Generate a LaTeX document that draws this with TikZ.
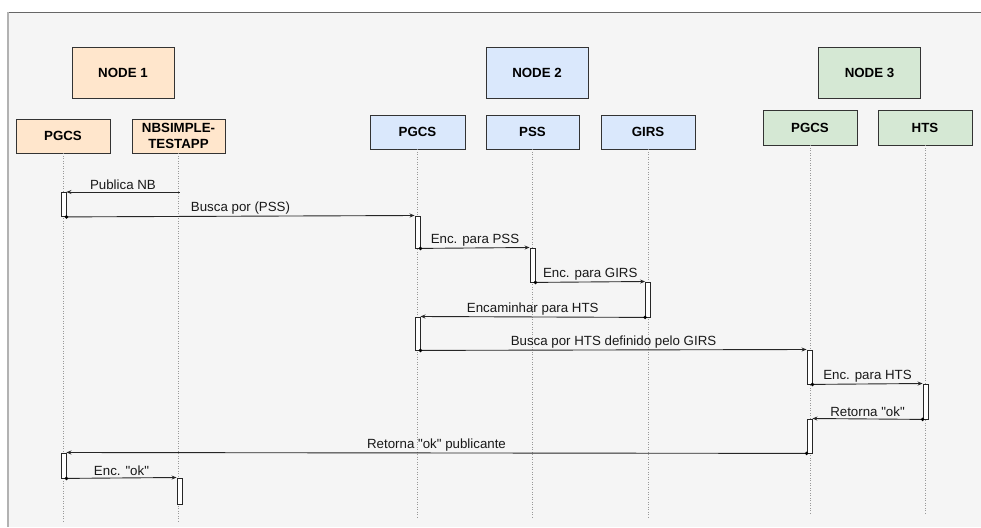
\documentclass[tikz,border=0pt]{standalone}
\usepackage{fontspec}
\setmainfont{Liberation Sans}
\newfontfamily\plainq{Liberation Sans}
\usetikzlibrary{arrows.meta}
\definecolor{bgc}{HTML}{F5F5F5}
\definecolor{orf}{HTML}{FFE6CC}
\definecolor{blf}{HTML}{DAE8FC}
\definecolor{grf}{HTML}{D5E8D4}
\definecolor{bordc}{HTML}{333333}
\newcommand{\dq}{{\plainq\symbol{34}}}
\begin{document}
\begin{tikzpicture}[x=1pt,y=-1pt,
  box/.style={draw=bordc,line width=0.9pt,minimum width=94pt,minimum height=34pt,inner sep=0pt,align=center,font=\fontsize{13.3}{16.5}\selectfont\bfseries},
  bigbox/.style={box,minimum width=102pt,minimum height=51pt},
  life/.style={draw=gray!80,line width=0.6pt,dash pattern=on 1pt off 1.5pt},
  bar/.style={draw=black!85,fill=white,line width=0.9pt,minimum width=5pt,inner sep=0pt,anchor=north},
  msg/.style={draw=black!85,line width=0.9pt,-{Stealth[length=5pt,width=4pt]}},
  lbl/.style={midway,above,inner sep=1.5pt,font=\fontsize{13.3}{15}\selectfont,text=black!90}
]
\useasboundingbox (0,0) rectangle (981,527);
\fill[bgc] (7,12) rectangle (981,527);
\draw[gray!80!black,line width=0.8pt] (7,12) -- (981,12);
\draw[gray!60,line width=2pt] (8,12) -- (8,527);

% group boxes
\node[bigbox,fill=orf] (n1) at (123,72.5) {NODE 1};
\node[bigbox,fill=blf] (n2) at (537,72.5) {NODE 2};
\node[bigbox,fill=grf] (n3) at (869.5,72.5) {NODE 3};

% participants
\node[box,fill=orf] (pg1) at (63,136) {PGCS};
\node[box,fill=orf,minimum width=93pt] (nb) at (178.5,136) {NBSIMPLE-\\TESTAPP};
\node[box,fill=blf,minimum width=95pt] (pg2) at (417.5,132) {PGCS};
\node[box,fill=blf,minimum width=93pt] (pss) at (532.5,132) {PSS};
\node[box,fill=blf] (girs) at (648,132) {GIRS};
\node[box,fill=grf,minimum height=35pt] (pg3) at (810,127.5) {PGCS};
\node[box,fill=grf,minimum height=35pt] (hts) at (925,127.5) {HTS};

% lifelines
\foreach \p in {pg1,nb,pg2,pss,girs,pg3,hts}
  \draw[life] (\p.south) -- ++(0,370);

% activation bars
\node[bar,minimum height=24pt] (b1) at (63.5,192) {};
\node[bar,minimum height=32pt] (b2) at (417.5,215.5) {};
\node[bar,minimum height=34pt] (b3) at (532.5,247.5) {};
\node[bar,minimum height=35pt] (b4) at (648,281.5) {};
\node[bar,minimum height=33pt] (b5) at (417.5,316.5) {};
\node[bar,minimum height=34pt] (b6) at (809.5,349.5) {};
\node[bar,minimum height=35pt] (b7) at (925.5,383.5) {};
\node[bar,minimum height=34pt] (b8) at (809.5,418.5) {};
\node[bar,minimum height=25pt] (b9) at (63.5,452.5) {};
\node[bar,minimum height=26pt] (b10) at (179.5,477.5) {};

\coordinate (s1) at (179.5,192);

% messages
\draw[msg] (s1) -- (b1.north east) node[lbl] {Publica NB};
\draw[msg] (b1.south east) -- (b2.north west) node[lbl] {Busca por (PSS)};
\draw[msg] (b2.south east) -- (b3.north west) node[lbl] {Enc. para PSS};
\draw[msg] (b3.south east) -- (b4.north west) node[lbl] {Enc. para GIRS};
\draw[msg] (b4.south west) -- (b5.north east) node[lbl] {Encaminhar para HTS};
\draw[msg] (b5.south east) -- (b6.north west) node[lbl] {Busca por HTS definido pelo GIRS};
\draw[msg] (b6.south east) -- (b7.north west) node[lbl] {Enc. para HTS};
\draw[msg] (b7.south west) -- (b8.north east) node[lbl] {Retorna \dq ok\dq};
\draw[msg] (b8.south west) -- (b9.north east) node[lbl] {Retorna \dq ok\dq{} publicante};
\draw[msg] (b9.south east) -- (b10.north west) node[lbl] {Enc. \dq ok\dq};

% source dots
\foreach \d in {b1.south east,b2.south east,b3.south east,b4.south west,b5.south east,b6.south east,b7.south west,b8.south west,b9.south east}
  \fill[black] (\d) circle (1.9pt);
\end{tikzpicture}
\end{document}
